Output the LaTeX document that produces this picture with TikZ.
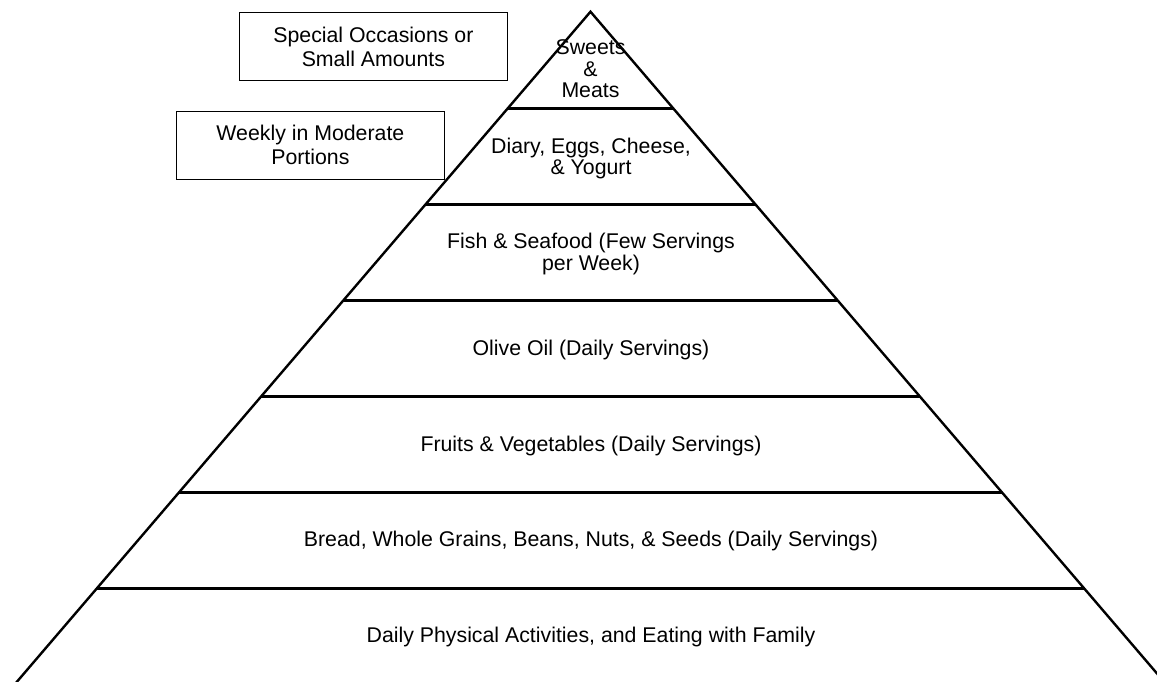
\documentclass[tikz,border=0pt]{standalone}
\usepackage{fontspec}
\setmainfont{Liberation Sans}
\usepackage{tikz}
\usetikzlibrary{calc}
\tikzstyle{pyr}=[line width=1.2pt,line join=miter]
\tikzstyle{box}=[draw,line width=0.5pt,minimum width=133.6pt,minimum height=33.8pt,inner sep=0pt,align=center,font=\fontsize{10.65}{12}\selectfont]
\tikzstyle{lay}=[inner sep=0pt,align=center,font=\fontsize{10.65}{10.75}\selectfont]
\begin{document}
\begin{tikzpicture}[x=0.5pt,y=-0.5pt]
 \clip (0,0) rectangle (1157,681);
 \coordinate (top) at (590.5,11.7);
 % sides of the pyramid
 \draw[pyr] (1.3,700) -- (top) -- (1179.7,700);
 \foreach \Z in {0,...,5}
 {\pgfmathsetmacro{\Y}{108.3+96*\Z}
 \pgfmathsetmacro{\W}{0.856*(\Y-11.7)}
 \draw[pyr] (590.5-\W,\Y) -- (590.5+\W,\Y);}
 %
 \node[lay,anchor=north] (swt) at (590.5,39.7) {\fontsize{10.65}{11.25}\selectfont Sweets\\\&\\Meats};
 \node[lay,anchor=north] (dry) at (591,137.3) {Diary, Eggs, Cheese,\\\& Yogurt};
 \node[lay,anchor=north] (fsh) at (591,233) {Fish \& Seafood (Few Servings\\per Week)};
 \node[lay,anchor=base] (oil) at (591,355) {Olive Oil (Daily Servings)};
 \node[lay,anchor=base] (frt) at (591,451.7) {Fruits \& Vegetables (Daily Servings)};
 \node[lay,anchor=base] (brd) at (591,546.7) {Bread, Whole Grains, Beans, Nuts, \& Seeds (Daily Servings)};
 \node[lay,anchor=base] (act) at (591,642.7) {Daily Physical Activities, and Eating with Family};
 %
 \node[box] (occ) at (373.4,46.5) {Special Occasions or\\Small Amounts};
 \node[box] (wkl) at (310.4,145.2) {Weekly in Moderate\\Portions};
\end{tikzpicture}
\end{document}
